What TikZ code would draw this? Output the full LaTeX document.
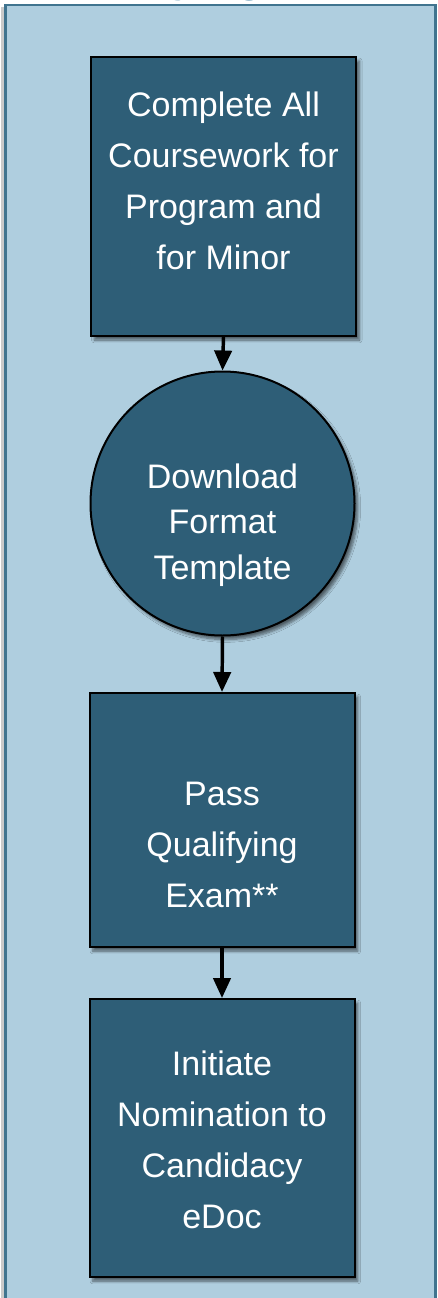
\documentclass[tikz,border=0pt]{standalone}
\usepackage{fontspec}
\setmainfont{Liberation Sans}
\usetikzlibrary{arrows.meta,shadows.blur,shapes.geometric}
\definecolor{panelfill}{HTML}{AFCEDF}
\definecolor{panelline}{HTML}{40748F}
\definecolor{boxfill}{HTML}{2E5E77}
\definecolor{titlecol}{HTML}{3A7BA0}
\begin{document}
\begin{tikzpicture}[x=0.75pt,y=-0.75pt,
  stepbox/.style={draw=black, line width=1.5pt, fill=boxfill,
    minimum width=198.75pt, inner sep=0pt,
    blur shadow={shadow xshift=2.5pt, shadow yshift=-3pt, shadow blur steps=6, shadow opacity=55}},
  roundstep/.style={stepbox, circle, minimum size=198pt, minimum width=198pt},
  steptext/.style={text=white, align=center, inner sep=0pt,
    font=\fontsize{25.5}{38.2}\selectfont},
  roundtext/.style={steptext, font=\fontsize{25.5}{34}\selectfont},
  flow/.style={draw=black, line width=2.6pt, -{Triangle[length=15pt,width=13pt]}}
]
\useasboundingbox (0,0) rectangle (437,1298);
% title (mostly clipped by the page edge)
\node[anchor=base west, inner sep=0pt, text=titlecol, font=\bfseries\fontsize{33.6}{34}\selectfont] (title) at (45,-8.5) {Qualifying};
% panel
\fill[black!35, opacity=0.6] (1,7) rectangle (8,1310);
\draw[panelline, line width=2.2pt, fill=panelfill] (5.5,5) rectangle (435.5,1310);
% boxes
\node[stepbox, minimum height=209.25pt] (b1) at (223.5,196.5) {};
\node[steptext] (t1) at (223.5,181) {Complete All\\Coursework for\\Program and\\for Minor};
\node[roundstep] (c2) at (222.5,503.5) {};
\node[roundtext] (t2) at (222.5,525) {Download\\Format\\Template};
\node[stepbox, minimum height=190.5pt] (b3) at (222,820) {};
\node[steptext] (t3) at (222,845) {Pass\\Qualifying\\Exam**};
\node[stepbox, minimum height=208.5pt] (b4) at (222,1138) {};
\node[steptext] (t4) at (222,1140) {Initiate\\Nomination to\\Candidacy\\eDoc};
% connectors
\draw[flow] (b1.south) -- (c2.north);
\draw[flow] (c2.south) -- (b3.north);
\draw[flow] (b3.south) -- (b4.north);
\end{tikzpicture}
\end{document}
